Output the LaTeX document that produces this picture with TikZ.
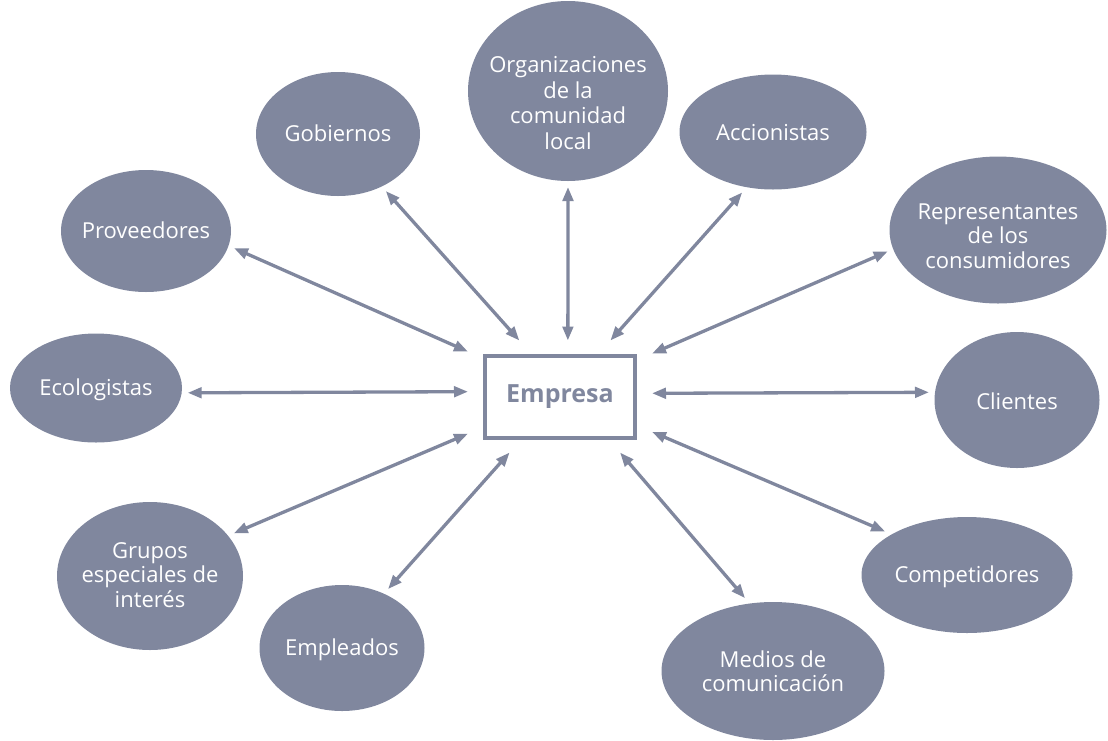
\documentclass[tikz,border=0pt]{standalone}
\usepackage{fontspec}
\setmainfont{Open Sans}
\usetikzlibrary{arrows.meta,shapes.geometric}
\definecolor{bubcol}{RGB}{128,135,158}
% Text set in a zero-size box so that the ellipse keeps its given size;
% the optional argument moves the text block down inside the ellipse.
\newcommand\bubtxt[2][0pt]{\makebox[0pt]{\smash{\raisebox{\dimexpr-8pt-#1\relax}{\begin{tabular}{@{}c@{}}#2\end{tabular}}}}}
\begin{document}
\begin{tikzpicture}[x=1pt,y=-1pt,
  bub/.style={ellipse, fill=bubcol, text=white, inner sep=0pt, outer sep=6pt,
    font=\fontsize{22}{24.5}\selectfont},
  link/.style={draw=bubcol, line width=3.3pt,
    {Triangle[length=14pt,width=10.5pt]}-{Triangle[length=14pt,width=10.5pt]}},
  core/.style={rectangle, draw=bubcol, line width=4pt, minimum width=150pt,
    minimum height=82pt, outer xsep=17pt, outer ysep=15pt, text=bubcol,
    font=\fontsize{25}{30}\selectfont\bfseries}]
\useasboundingbox (0,0) rectangle (1108,740);

% central company
\node[core] (emp) at (560,396.5) {Empresa};

% stakeholder groups
\node[bub, minimum width=200pt, minimum height=180pt,
  font=\fontsize{22}{25.8}\selectfont] (org) at (568,91)
  {\bubtxt[12pt]{Organizaciones\\de la\\comunidad\\local}};
\node[bub, minimum width=164pt, minimum height=124pt] (gob) at (338,134)
  {\bubtxt{Gobiernos}};
\node[bub, minimum width=187pt, minimum height=115pt] (acc) at (773,132)
  {\bubtxt[1pt]{Accionistas}};
\node[bub, minimum width=170pt, minimum height=122pt] (prov) at (146,231)
  {\bubtxt{Proveedores}};
\node[bub, minimum width=217pt, minimum height=147pt] (rep) at (998,230)
  {\bubtxt[6pt]{Representantes\\de los\\consumidores}};
\node[bub, minimum width=172pt, minimum height=109pt] (eco) at (96,388)
  {\bubtxt{Ecologistas}};
\node[bub, minimum width=165pt, minimum height=136pt] (cli) at (1017,400)
  {\bubtxt[2pt]{Clientes}};
\node[bub, minimum width=186pt, minimum height=148pt] (gru) at (150,576)
  {\bubtxt[-1pt]{Grupos\\especiales de\\interés}};
\node[bub, minimum width=165pt, minimum height=126pt] (empl) at (342,648)
  {\bubtxt{Empleados}};
\node[bub, minimum width=223pt, minimum height=138pt] (med) at (773,671)
  {\bubtxt[1pt]{Medios de\\comunicación}};
\node[bub, minimum width=211pt, minimum height=116pt] (comp) at (967,575)
  {\bubtxt{Competidores}};

% two-way relations with the company
\draw[link] (prov.-11.8) -- (emp.154.7);
\draw[link] (gob.-50.2) -- (emp.126.5);
\draw[link] (org.-90) -- (emp.82.3);
\draw[link] (acc.-117.3) -- (emp.48.3);
\draw[link] (rep.-169.9) -- (emp.25.6);
\draw[link] (eco.-3) -- (emp.177.9);
\draw[link] (cli.175.3) -- (emp.2.2);
\draw[link] (gru.27.1) -- (emp.-158.6);
\draw[link] (empl.52.2) -- (emp.-132.4);
\draw[link] (med.111.3) -- (emp.-43.6);
\draw[link] (comp.152.5) -- (emp.-21.4);
\end{tikzpicture}
\end{document}
